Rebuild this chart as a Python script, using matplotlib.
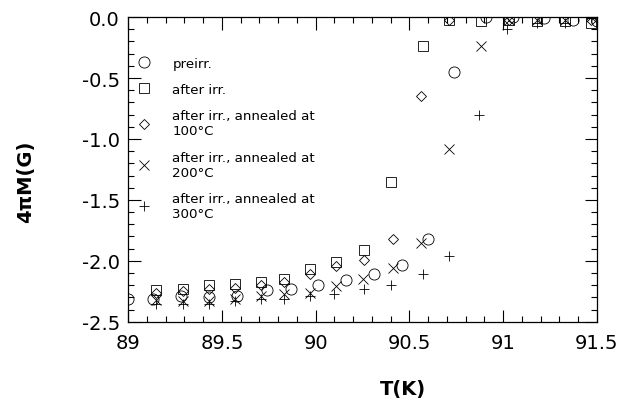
import matplotlib
matplotlib.use("Agg")
import matplotlib.pyplot as plt
from matplotlib.ticker import MultipleLocator

plt.rcParams['font.family'] = ['DejaVu Sans']

# preirr. (circles)
t_pre = [89.0, 89.13, 89.28, 89.43, 89.58, 89.74, 89.87, 90.01, 90.16, 90.31, 90.46, 90.60,
         90.74, 90.91, 91.05, 91.22, 91.37, 91.50]
m_pre = [-2.31, -2.31, -2.29, -2.30, -2.29, -2.24, -2.23, -2.20, -2.16, -2.11, -2.03, -1.82,
         -0.45, 0.0, 0.0, -0.01, -0.02, -0.03]

# after irr. (squares)
t_irr = [89.15, 89.29, 89.43, 89.57, 89.71, 89.83, 89.97, 90.11, 90.26, 90.40, 90.57,
         90.71, 90.88, 91.03, 91.18, 91.33, 91.47]
m_irr = [-2.24, -2.23, -2.20, -2.19, -2.17, -2.15, -2.07, -2.01, -1.91, -1.35, -0.24,
         -0.02, -0.03, -0.02, -0.03, -0.03, -0.05]

# annealed at 100 C (diamonds)
t_100 = [89.15, 89.29, 89.43, 89.57, 89.71, 89.83, 89.97, 90.11, 90.26, 90.41, 90.56,
         90.71, 91.03, 91.47]
m_100 = [-2.26, -2.25, -2.23, -2.22, -2.20, -2.17, -2.11, -2.04, -1.99, -1.82, -0.65,
         -0.02, -0.02, -0.02]

# annealed at 200 C (crosses)
t_200 = [89.15, 89.29, 89.43, 89.57, 89.71, 89.83, 89.97, 90.11, 90.25, 90.41, 90.56,
         90.71, 90.88, 91.03, 91.18, 91.33, 91.47]
m_200 = [-2.32, -2.33, -2.33, -2.31, -2.29, -2.27, -2.26, -2.21, -2.15, -2.06, -1.85,
         -1.08, -0.24, -0.02, -0.02, -0.02, 0.0]

# annealed at 300 C (plus)
t_300 = [89.15, 89.29, 89.43, 89.57, 89.71, 89.83, 89.97, 90.10, 90.26, 90.40, 90.57,
         90.71, 90.87, 91.02, 91.18, 91.33, 91.47]
m_300 = [-2.35, -2.35, -2.35, -2.33, -2.31, -2.31, -2.29, -2.27, -2.23, -2.20, -2.11,
         -1.96, -0.80, -0.10, -0.05, -0.05, -0.01]

labels = ['preirr.', 'after irr.', 'after irr., annealed at\n100°C',
          'after irr., annealed at\n200°C', 'after irr., annealed at\n300°C']

fig = plt.figure(figsize=(6.25, 4.02), dpi=100)
ax = fig.add_axes([0.205, 0.197, 0.75, 0.758])

ms = 7
kw = dict(linestyle='none', color='black', mfc='none', mew=0.6)
ax.plot(t_pre, m_pre, marker='o', ms=ms + 1, label=labels[0], **kw)
ax.plot(t_irr, m_irr, marker='s', ms=ms, label=labels[1], **kw)
ax.plot(t_100, m_100, marker='D', ms=ms - 1.5, label=labels[2], **kw)
ax.plot(t_200, m_200, marker='x', ms=ms, label=labels[3], **kw)
ax.plot(t_300, m_300, marker='+', ms=ms, label=labels[4], **kw)

ax.set_xlim(89, 91.5)
ax.set_ylim(-2.5, 0.0)
ax.xaxis.set_major_locator(MultipleLocator(0.5))
ax.xaxis.set_minor_locator(MultipleLocator(0.1))
ax.yaxis.set_major_locator(MultipleLocator(0.5))
ax.yaxis.set_minor_locator(MultipleLocator(0.1))
ax.tick_params(which='both', direction='in', top=True, right=True, labelsize=14, width=0.8)
ax.tick_params(which='major', length=9)
ax.tick_params(which='minor', length=4.5)
ax.tick_params(axis='x', pad=8)
ax.tick_params(axis='y', pad=6)
ax.xaxis.set_major_formatter(matplotlib.ticker.FuncFormatter(lambda v, p: ('%g' % v)))
ax.yaxis.set_major_formatter(matplotlib.ticker.FormatStrFormatter('%.1f'))
for s in ax.spines.values():
    s.set_linewidth(0.9)

ax.set_xlabel('T(K)', fontsize=14, fontweight='bold')
ax.set_ylabel('4πM(G)', fontsize=14, fontweight='bold')
ax.xaxis.set_label_coords(0.586, -0.187)
ax.yaxis.set_label_coords(-0.198, 0.462)

ax.legend(loc='upper left', bbox_to_anchor=(0.019, 0.870), frameon=False, fontsize=9.6,
          borderpad=0, borderaxespad=0, handlelength=1.0, handletextpad=1.65,
          labelspacing=1.0, numpoints=1)

fig.savefig('out.png', dpi=100)
